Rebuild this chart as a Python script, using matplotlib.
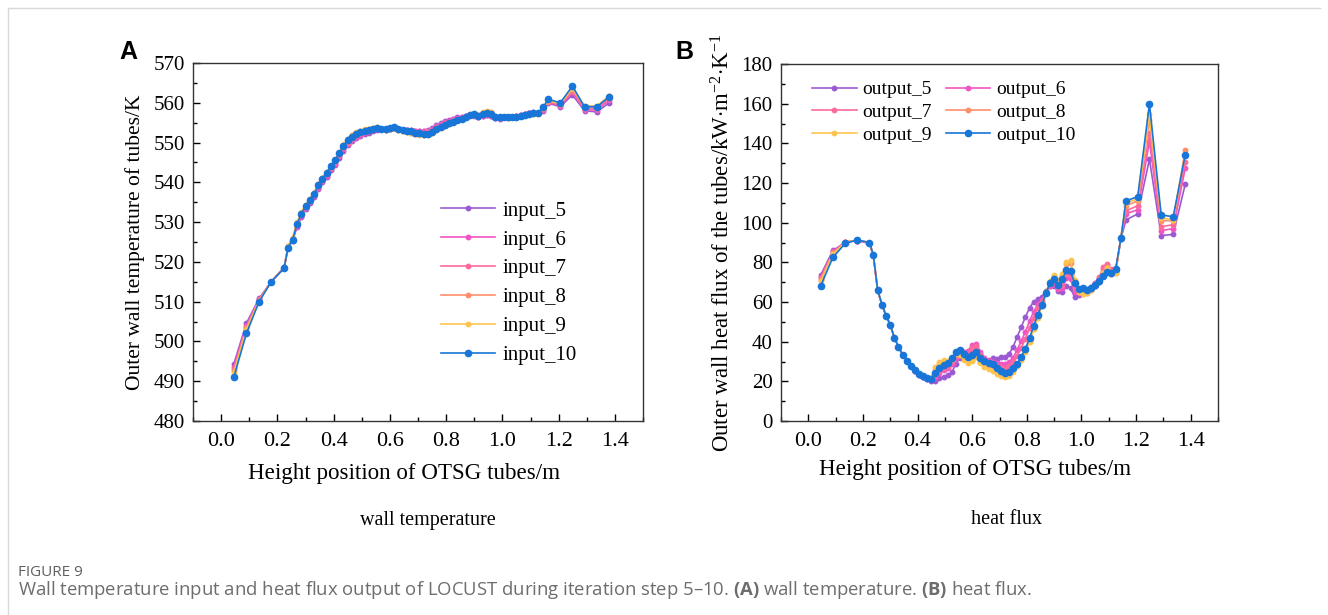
import numpy as np
import matplotlib
matplotlib.use('Agg')
import matplotlib.pyplot as plt
from matplotlib.ticker import MultipleLocator
from matplotlib.lines import Line2D

plt.rcParams['font.family'] = ['Liberation Serif', 'DejaVu Serif']
plt.rcParams['mathtext.fontset'] = 'custom'
plt.rcParams['mathtext.rm'] = 'Liberation Serif'
plt.rcParams['mathtext.it'] = 'Liberation Serif:italic'
plt.rcParams['mathtext.bf'] = 'Open Sans:bold'

# height positions of the sample points (m)
height = [0.045, 0.09, 0.135, 0.178, 0.224, 0.238, 0.254,
          0.27, 0.285, 0.30, 0.315, 0.33, 0.345, 0.36, 0.375, 0.39, 0.405,
          0.42, 0.435, 0.45, 0.465, 0.48, 0.495, 0.51, 0.525, 0.54, 0.555,
          0.57, 0.585, 0.60, 0.615, 0.63, 0.645, 0.66, 0.675, 0.69, 0.705,
          0.72, 0.735, 0.75, 0.765, 0.78, 0.795, 0.81, 0.825, 0.84, 0.855,
          0.87, 0.885, 0.90, 0.915, 0.93, 0.945, 0.96, 0.975, 0.99, 1.005,
          1.02, 1.035, 1.05, 1.065, 1.08, 1.095, 1.11, 1.125,
          1.145, 1.163, 1.206, 1.249, 1.292, 1.336, 1.38]

# (A) wall temperature input, K
input_5 = [494.3, 504.6, 510.8, 515.0, 518.7, 523.5, 525.3,
           528.8, 531.2, 533.2, 534.7, 536.2, 538.4, 540.0, 541.4, 543.0, 544.4,
           546.2, 548.0, 549.4, 550.4, 551.2, 551.7, 552.1, 552.5, 552.9, 553.2,
           553.3, 553.2, 553.5, 553.7, 553.3, 553.2, 553.1, 553.1, 553.0, 552.9,
           553.0, 553.2, 553.7, 554.3, 554.8, 555.3, 555.6, 556.0, 556.3, 556.5,
           556.8, 557.0, 556.8, 556.4, 556.7, 556.9, 556.7, 556.1, 556.0, 556.3,
           556.3, 556.5, 556.7, 557.0, 557.3, 557.5, 557.6, 557.4,
           558.0, 559.9, 559.0, 562.0, 558.0, 557.7, 560.0]
input_6 = [493.5, 504.0, 510.6, 515.0, 518.6, 523.7, 525.5,
           529.0, 531.5, 533.5, 535.0, 536.5, 538.7, 540.3, 541.7, 543.3, 544.7,
           546.5, 548.3, 549.7, 550.7, 551.5, 552.0, 552.4, 552.8, 553.1, 553.4,
           553.4, 553.3, 553.6, 553.7, 553.3, 553.2, 553.1, 553.0, 552.9, 552.8,
           552.8, 553.0, 553.5, 554.1, 554.6, 555.1, 555.4, 555.8, 556.1, 556.3,
           556.7, 557.0, 556.9, 556.5, 556.8, 557.0, 556.8, 556.2, 556.1, 556.3,
           556.3, 556.4, 556.6, 556.9, 557.2, 557.4, 557.5, 557.4,
           558.2, 560.1, 559.3, 562.6, 558.3, 558.2, 560.6]
input_7 = [493.0, 503.6, 510.5, 515.0, 518.6, 523.8, 525.6,
           529.3, 531.8, 533.8, 535.3, 536.8, 539.0, 540.6, 542.0, 543.6, 545.0,
           546.8, 548.6, 550.0, 551.0, 551.7, 552.2, 552.6, 552.9, 553.2, 553.5,
           553.4, 553.3, 553.6, 553.7, 553.3, 553.2, 553.1, 553.0, 552.8, 552.7,
           552.7, 552.8, 553.2, 553.8, 554.3, 554.8, 555.2, 555.6, 555.9, 556.2,
           556.6, 557.0, 557.0, 556.6, 557.0, 557.2, 557.0, 556.3, 556.2, 556.4,
           556.3, 556.4, 556.6, 556.8, 557.1, 557.4, 557.5, 557.4,
           558.4, 560.3, 559.5, 563.0, 558.5, 558.5, 561.0]
input_8 = [492.5, 503.3, 510.3, 515.0, 518.5, 524.0, 526.0,
           529.8, 532.3, 534.2, 535.7, 537.3, 539.5, 541.1, 542.5, 544.1, 545.6,
           547.4, 549.3, 550.8, 551.8, 552.4, 552.8, 553.2, 553.4, 553.5, 553.7,
           553.4, 553.2, 553.4, 553.6, 553.1, 552.9, 552.7, 552.5, 552.2, 552.1,
           552.0, 552.1, 552.6, 553.2, 553.8, 554.3, 554.8, 555.2, 555.6, 556.0,
           556.5, 557.0, 557.2, 556.9, 557.5, 557.8, 557.7, 556.6, 556.3, 556.4,
           556.2, 556.3, 556.5, 556.7, 557.0, 557.3, 557.4, 557.4,
           558.6, 560.5, 559.7, 563.4, 559.0, 558.9, 561.6]
input_9 = [492.0, 503.0, 510.2, 515.0, 518.5, 524.0, 526.0,
           530.0, 532.5, 534.3, 535.8, 537.4, 539.6, 541.2, 542.6, 544.2, 545.7,
           547.5, 549.5, 551.0, 552.0, 552.6, 553.0, 553.3, 553.5, 553.6, 553.8,
           553.5, 553.3, 553.5, 553.6, 553.1, 552.8, 552.7, 552.5, 552.2, 552.0,
           552.0, 552.0, 552.5, 553.1, 553.7, 554.2, 554.7, 555.2, 555.6, 556.0,
           556.5, 557.1, 557.3, 557.0, 557.6, 557.9, 557.8, 556.7, 556.3, 556.4,
           556.2, 556.3, 556.4, 556.7, 557.0, 557.2, 557.3, 557.3,
           558.7, 560.6, 559.8, 563.6, 559.3, 559.2, 561.8]
input_10 = [491.0, 502.0, 510.0, 515.0, 518.4, 523.6, 525.5,
            529.5, 532.0, 534.0, 535.5, 537.0, 539.3, 540.9, 542.4, 544.0, 545.5,
            547.3, 549.2, 550.6, 551.5, 552.2, 552.6, 553.0, 553.2, 553.4, 553.7,
            553.4, 553.3, 553.6, 553.8, 553.3, 553.1, 553.0, 552.8, 552.5, 552.3,
            552.2, 552.2, 552.6, 553.3, 553.8, 554.3, 554.8, 555.2, 555.6, 556.0,
            556.5, 557.0, 557.1, 556.7, 557.2, 557.5, 557.3, 556.5, 556.3, 556.5,
            556.3, 556.3, 556.5, 556.7, 557.0, 557.3, 557.5, 557.5,
            558.9, 560.9, 560.0, 564.2, 559.0, 559.0, 561.5]

# (B) heat flux output, kW/(m2 K)
output_5 = [73.5, 86.0, 90.0, 91.0, 89.5, 83.5, 65.5,
            58.5, 53.0, 48.5, 42.0, 37.5, 33.5, 30.3, 27.5, 25.2, 23.3,
            22.0, 21.0, 20.0, 20.3, 21.5, 22.0, 23.0, 24.5, 28.5, 32.0,
            33.3, 32.5, 34.5, 35.5, 33.5, 31.0, 30.3, 31.6, 31.5, 32.2,
            32.5, 33.8, 37.5, 42.5, 47.5, 52.5, 57.0, 60.2, 61.3, 62.5,
            65.5, 68.0, 68.0, 65.5, 65.0, 68.2, 67.0, 62.3, 63.5, 65.5,
            65.5, 66.5, 68.0, 70.0, 73.5, 76.5, 75.0, 75.5,
            92.0, 101.4, 104.4, 132.0, 93.5, 94.1, 119.4]
output_6 = [72.5, 85.5, 90.2, 91.0, 89.6, 83.6, 65.8,
            58.4, 53.0, 48.4, 42.0, 37.4, 33.4, 30.3, 27.6, 25.3, 23.4,
            22.2, 21.4, 20.8, 22.0, 24.0, 25.5, 26.5, 28.5, 32.0, 34.0,
            35.0, 35.5, 38.5, 39.0, 35.0, 32.0, 31.0, 30.0, 29.0, 28.5,
            28.5, 29.5, 32.0, 36.0, 40.5, 45.0, 50.5, 55.0, 59.0, 61.0,
            64.5, 68.0, 69.0, 66.5, 67.0, 72.0, 71.5, 65.0, 64.5, 66.5,
            66.0, 67.5, 69.5, 72.0, 76.5, 78.5, 76.0, 76.0,
            92.5, 104.5, 106.5, 141.0, 96.0, 97.0, 127.4]
output_7 = [72.0, 85.0, 90.3, 91.0, 89.8, 83.6, 65.9,
            58.5, 53.0, 48.5, 42.0, 37.5, 33.5, 30.4, 27.7, 25.4, 23.5,
            22.3, 21.6, 21.0, 23.0, 25.0, 26.5, 27.5, 29.5, 33.0, 34.5,
            34.5, 34.0, 37.0, 38.0, 34.0, 31.0, 30.0, 29.0, 27.5, 27.0,
            26.5, 27.5, 30.0, 33.0, 37.0, 41.5, 47.0, 52.0, 57.0, 60.0,
            64.5, 68.5, 70.0, 67.5, 68.5, 74.0, 73.5, 67.0, 65.0, 66.0,
            65.5, 67.0, 69.5, 72.5, 77.5, 79.0, 76.5, 75.5,
            92.5, 106.0, 108.5, 145.0, 98.0, 99.0, 130.8]
output_8 = [71.0, 84.5, 90.3, 91.2, 90.0, 83.7, 66.0,
            58.5, 53.0, 48.5, 42.0, 37.5, 33.5, 30.5, 27.8, 25.5, 23.6,
            22.5, 21.8, 21.5, 26.0, 28.5, 29.5, 30.0, 31.5, 34.0, 34.0,
            32.0, 30.0, 31.0, 33.0, 30.0, 28.0, 27.0, 26.0, 24.5, 23.5,
            23.0, 23.5, 25.5, 28.0, 31.5, 35.5, 40.5, 47.0, 52.5, 58.0,
            64.5, 70.0, 73.0, 70.5, 73.0, 79.0, 79.5, 70.5, 65.5, 64.0,
            64.5, 66.0, 68.0, 71.0, 75.0, 77.5, 74.0, 74.5,
            93.0, 108.5, 111.0, 152.0, 101.0, 101.0, 136.7]
output_9 = [70.5, 84.0, 90.0, 91.2, 90.0, 83.7, 66.0,
            58.5, 53.0, 48.5, 42.0, 37.5, 33.5, 30.5, 27.8, 25.5, 23.6,
            22.5, 21.8, 21.8, 27.0, 29.5, 31.0, 30.5, 31.5, 34.0, 33.5,
            31.0, 29.0, 30.5, 32.5, 29.0, 27.0, 26.0, 25.0, 23.5, 22.5,
            22.0, 22.5, 24.5, 27.5, 31.0, 35.0, 40.0, 46.5, 52.0, 58.0,
            65.0, 70.5, 73.5, 71.0, 74.0, 80.0, 81.0, 71.0, 65.0, 64.0,
            64.5, 66.0, 68.0, 70.5, 74.5, 77.0, 74.0, 74.5,
            93.0, 110.0, 112.0, 155.0, 102.5, 101.5, 134.5]
output_10 = [68.0, 82.5, 89.5, 91.3, 90.0, 83.7, 66.0,
             58.5, 53.0, 48.5, 42.0, 37.5, 33.5, 30.5, 27.8, 25.5, 23.6,
             22.5, 21.8, 21.3, 24.0, 26.5, 28.2, 29.2, 31.6, 35.0, 35.8,
             34.0, 32.3, 33.5, 35.0, 32.0, 30.2, 29.3, 28.5, 26.5, 25.0,
             24.4, 24.8, 26.5, 28.8, 32.5, 36.5, 41.7, 48.0, 53.5, 58.5,
             64.5, 69.5, 71.5, 68.6, 71.5, 76.0, 75.5, 69.5, 66.4, 67.0,
             66.0, 67.0, 68.5, 70.5, 73.0, 75.3, 74.5, 76.5,
             92.5, 111.0, 113.1, 159.9, 103.9, 103.0, 134.1]

steps = [5, 6, 7, 8, 9, 10]
colors = ['#9b5ad2', '#f155c4', '#ff6a9c', '#ff8f6a', '#ffc34e', '#1876d8']
inputs = [input_5, input_6, input_7, input_8, input_9, input_10]
outputs = [output_5, output_6, output_7, output_8, output_9, output_10]

fig = plt.figure(figsize=(13.28, 6.15), dpi=100)
W, H = 1328, 615


def px_axes(l, t, r, b):
    return fig.add_axes([l / W, 1 - b / H, (r - l) / W, (b - t) / H])


axA = px_axes(193, 63, 643, 421)
axB = px_axes(781, 64, 1218, 421)


def style(ax, ylim, ymaj, ymin, xlab_x, xlab_y):
    ax.set_xlim(-0.1, 1.5)
    ax.set_ylim(*ylim)
    ax.xaxis.set_major_locator(MultipleLocator(0.2))
    ax.xaxis.set_minor_locator(MultipleLocator(0.1))
    ax.yaxis.set_major_locator(MultipleLocator(ymaj))
    ax.yaxis.set_minor_locator(MultipleLocator(ymin))
    ax.tick_params(which='both', direction='in', top=False, right=False, width=1.0)
    ax.tick_params(which='major', length=5)
    ax.tick_params(which='minor', length=3)
    ax.tick_params(axis='x', labelsize=16, pad=8)
    ax.tick_params(axis='y', labelsize=15, pad=6)
    ax.xaxis.set_major_formatter(matplotlib.ticker.FormatStrFormatter('%.1f'))
    for s in ax.spines.values():
        s.set_linewidth(1.0)
        s.set_color('#333333')
    ax.set_xlabel('Height position of OTSG tubes/m', fontsize=16.6)
    ax.xaxis.set_label_coords(xlab_x, xlab_y)


for i in range(6):
    big = i == 5
    axA.plot(height, inputs[i], color=colors[i], lw=1.2, marker='o',
             ms=4.5 if big else 3.2, label='input_%d' % steps[i])
    axB.plot(height, outputs[i], color=colors[i], lw=1.2, marker='o',
             ms=4.5 if big else 3.2, label='output_%d' % steps[i])

style(axA, (480, 570), 10, 5, 0.469, -0.117)
style(axB, (0, 180), 20, 10, 0.444, -0.107)
axA.set_ylabel('Outer wall temperature of tubes/K', fontsize=15.5, labelpad=6)
axB.set_ylabel('Outer wall heat flux of the tubes/kW$\\cdot$m$^{-2}$$\\cdot$K$^{-1}$',
               fontsize=16.5, labelpad=5)

axA.legend(loc='center left', bbox_to_anchor=(0.533, 0.385), frameon=False,
           fontsize=15, handlelength=2.6, labelspacing=0.45, handletextpad=0.35,
           borderaxespad=0)

# row-wise order in the two-column legend
hB, lB = axB.get_legend_handles_labels()
order = [0, 2, 4, 1, 3, 5]
axB.legend([hB[k] for k in order], [lB[k] for k in order],
           loc='upper left', bbox_to_anchor=(0.053, 0.975), frameon=False, ncol=2,
           fontsize=14, handlelength=2.3, labelspacing=0.26, handletextpad=0.3,
           columnspacing=0.7, borderaxespad=0)

fig.text(128 / W, 1 - 52 / H, 'A', fontsize=18, fontweight='bold',
         family='Liberation Sans', ha='center', va='center')
fig.text(684 / W, 1 - 52 / H, 'B', fontsize=18, fontweight='bold',
         family='Liberation Sans', ha='center', va='center')

fig.text(428 / W, 1 - 520 / H, 'wall temperature', fontsize=14.5, ha='center', va='center')
fig.text(1007 / W, 1 - 520 / H, 'heat flux', fontsize=14.5, ha='center', va='center')

fig.text(18 / W, 1 - 572 / H, 'FIGURE 9', fontsize=11, color='#5f5f5f',
         family='Open Sans', ha='left', va='center')
fig.text(18 / W, 1 - 590 / H,
         'Wall temperature input and heat flux output of LOCUST during iteration step 5\u201310. '
         '$\\bf{(A)}$ wall temperature. $\\bf{(B)}$ heat flux.',
         fontsize=13.3, color='#6d6d6d', family='Open Sans', ha='left', va='center')

# light frame of the figure card
fig.add_artist(Line2D([8 / W, 1320 / W], [1 - 8 / H, 1 - 8 / H], color='#d9d9d9', lw=1))
fig.add_artist(Line2D([8 / W, 8 / W], [1 - 8 / H, 0], color='#d9d9d9', lw=1))

fig.savefig('out.png', dpi=100)
